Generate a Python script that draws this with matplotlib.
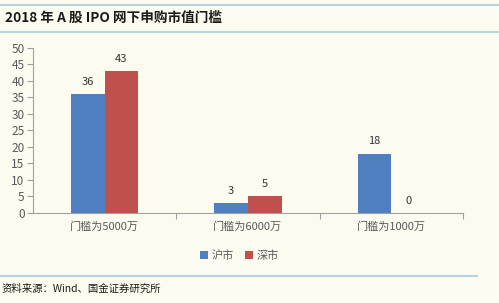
import numpy as np
import matplotlib.pyplot as plt
from matplotlib.lines import Line2D

plt.rcParams['font.family'] = ['Noto Sans CJK SC', 'DejaVu Sans']

categories = ['门槛为5000万', '门槛为6000万', '门槛为1000万']
sh_values = [36, 3, 18]
sz_values = [43, 5, 0]
series_names = ['沪市', '深市']
yticks = [0, 5, 10, 15, 20, 25, 30, 35, 40, 45, 50]

bg = '#fdfbf0'
blue = '#4f7fc0'
red = '#c0504d'
grey = '#595959'

fig = plt.figure(figsize=(4.99, 3.03), dpi=100, facecolor=bg)
ax = fig.add_axes([0.066, 0.297, 0.862, 0.545], facecolor=bg)

x = np.arange(len(categories))
w = 0.235
b1 = ax.bar(x - w / 2, sh_values, w, color=blue, label=series_names[0])
b2 = ax.bar(x + w / 2, sz_values, w, color=red, label=series_names[1])
for bars in (b1, b2):
    for r in bars:
        ax.text(r.get_x() + r.get_width() / 2, r.get_height() + 2.2, f'{int(r.get_height())}',
                ha='center', va='bottom', fontsize=8, color='#333333')

ax.set_xlim(-0.5, 2.5)
ax.set_ylim(0, 50)
ax.set_yticks(yticks)
ax.set_xticks([0.5, 1.5, 2.5])
ax.set_xticklabels([])
ax.set_xticks(x, minor=True)
ax.set_xticklabels(categories, minor=True)
ax.tick_params(axis='x', which='minor', length=0, pad=6, labelsize=8, labelcolor=grey)
ax.tick_params(axis='x', which='major', length=4, color='#a0a0a0')
ax.tick_params(axis='y', length=4, color='#a0a0a0', labelsize=8.5, labelcolor=grey, pad=2)
for s in ['top', 'right']:
    ax.spines[s].set_visible(False)
for s in ['left', 'bottom']:
    ax.spines[s].set_color('#a0a0a0')
    ax.spines[s].set_linewidth(0.8)

ax.legend(loc='upper center', bbox_to_anchor=(0.48, -0.165), ncol=2, frameon=False,
          fontsize=8, handlelength=0.7, handleheight=0.7, handletextpad=0.3,
          columnspacing=1.0, labelcolor=grey)

# title band and footer
for yy in (0.985, 0.895, 0.088):
    fig.add_artist(Line2D([0, 0.955 if yy < 0.5 else 1], [yy, yy], color='#b5d3e0', lw=1.5))
fig.text(0.01, 0.94, '2018 年 A 股 IPO 网下申购市值门槛', fontsize=9.8, fontweight='bold',
         fontstyle='italic', va='center', color='#1a1a1a')
fig.text(0.004, 0.048, '资料来源：Wind、国金证券研究所', fontsize=7.5, va='center', color='#1a1a1a')

fig.savefig('out.png', dpi=100, facecolor=bg)
